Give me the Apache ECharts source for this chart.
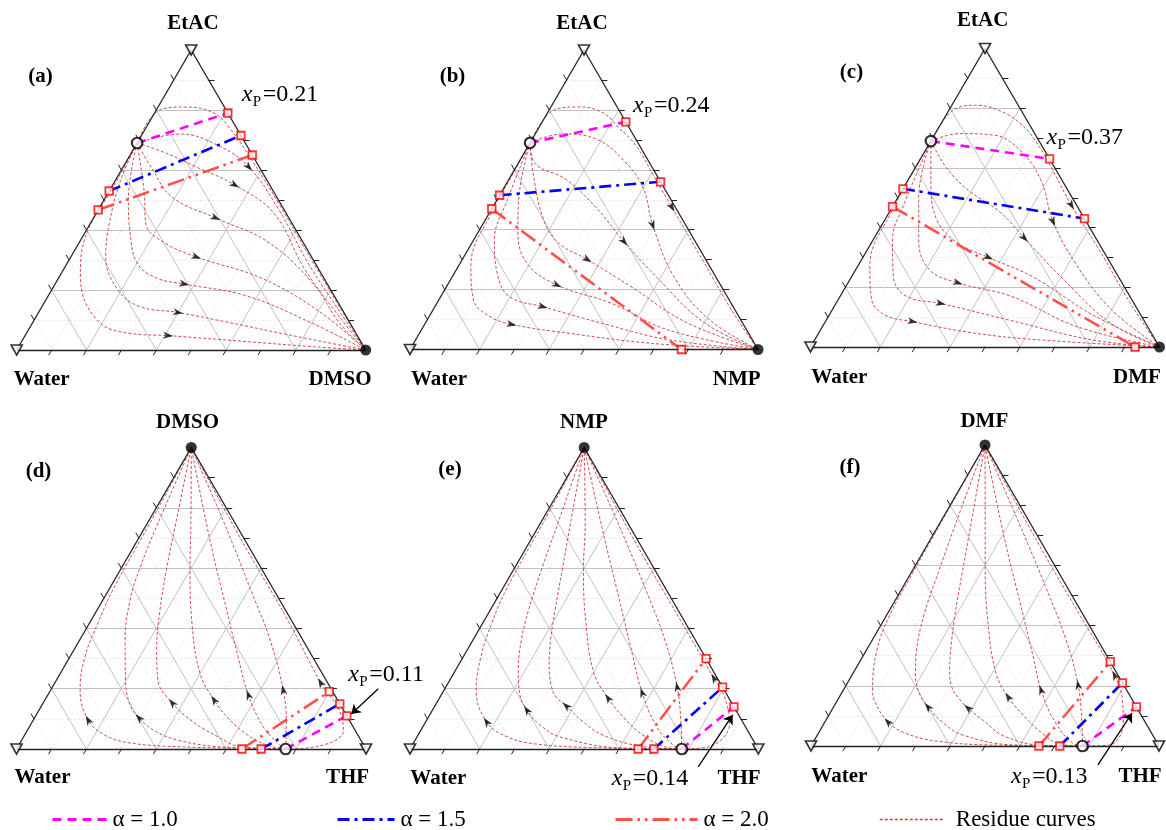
<!DOCTYPE html>
<html><head><meta charset="utf-8">
<script src="https://cdn.jsdelivr.net/npm/echarts@6/dist/echarts.min.js"></script>
<style>html,body{margin:0;padding:0;background:#fff}#c{width:1166px;height:830px}</style>
</head><body><div id="c"></div>
<script>
// ===== DATA: compositions given as [fraction of right vertex, fraction of top vertex] =====
const panelTags   = ['(a)','(b)','(c)','(d)','(e)','(f)'];
const topNames    = ['EtAC','EtAC','EtAC','DMSO','NMP','DMF'];
const leftNames   = ['Water','Water','Water','Water','Water','Water'];
const rightNames  = ['DMSO','NMP','DMF','THF','THF','THF'];
const xpValues    = ['0.21','0.24','0.37','0.11','0.14','0.13'];

const azeotropes = [[0,0.69],[0,0.69],[0,0.69],[0.77,0],[0.78,0],[0.78,0]];

const alpha10 = [[[0,0.69],[0.21,0.79]],[[0,0.69],[0.24,0.76]],[[0,0.69],[0.37,0.63]],
                 [[0.77,0],[0.89,0.11]],[[0.78,0],[0.86,0.14]],[[0.78,0],[0.87,0.13]]];
const alpha15 = [[[0,0.53],[0.285,0.715]],[[0,0.515],[0.44,0.56]],[[0,0.53],[0.57,0.43]],
                 [[0.70,0],[0.85,0.15]],[[0.70,0],[0.795,0.205]],[[0.715,0],[0.79,0.21]]];
const alpha20 = [[[0,0.467],[0.35,0.65]],[[0,0.47],[0.78,0]],[[0,0.47],[0.93,0]],
                 [[0.645,0],[0.80,0.19]],[[0.655,0],[0.70,0.30]],[[0.655,0],[0.72,0.28]]];

const residueA = [
 [[0,0.69],[0.01,0.80],[0.08,0.81],[0.17,0.79],[0.24,0.74],[0.35,0.64],[0.51,0.485],[0.70,0.295],[1,0]],
 [[0,0.69],[0.11,0.72],[0.24,0.68],[0.36,0.61],[0.52,0.465],[0.69,0.29],[0.87,0.12],[1,0]],
 [[0,0.69],[0.09,0.66],[0.21,0.61],[0.35,0.55],[0.51,0.455],[0.69,0.27],[0.87,0.11],[1,0]],
 [[0,0.69],[0.08,0.61],[0.19,0.51],[0.35,0.44],[0.54,0.36],[0.74,0.22],[0.88,0.09],[1,0]],
 [[0,0.69],[0.10,0.53],[0.16,0.42],[0.24,0.36],[0.36,0.31],[0.58,0.24],[0.80,0.13],[1,0]],
 [[0,0.69],[0.07,0.50],[0.13,0.39],[0.20,0.29],[0.28,0.24],[0.37,0.22],[0.57,0.18],[0.80,0.09],[1,0]],
 [[0,0.69],[0.015,0.565],[0.055,0.42],[0.10,0.31],[0.19,0.20],[0.28,0.145],[0.40,0.125],[0.57,0.09],[0.78,0.045],[1,0]],
 [[0,0.69],[0.005,0.55],[0.01,0.37],[0.06,0.245],[0.18,0.10],[0.30,0.055],[0.41,0.048],[0.645,0.028],[0.845,0.011],[1,0]]
];
const arrowsA = [-1,3,3,3,4,5,6,6];

const residueB = [
 [[0,0.69],[0.015,0.80],[0.08,0.81],[0.16,0.79],[0.23,0.74],[0.31,0.68],[0.41,0.58],[0.515,0.475],[0.70,0.29],[0.86,0.13],[1,0]],
 [[0,0.69],[0.08,0.72],[0.19,0.70],[0.30,0.63],[0.40,0.54],[0.49,0.415],[0.64,0.24],[0.81,0.10],[1,0]],
 [[0,0.69],[0.05,0.62],[0.16,0.57],[0.29,0.48],[0.435,0.36],[0.59,0.24],[0.80,0.09],[1,0]],
 [[0,0.69],[0.065,0.58],[0.17,0.43],[0.25,0.355],[0.36,0.30],[0.53,0.21],[0.75,0.09],[1,0]],
 [[0,0.69],[0.05,0.53],[0.11,0.40],[0.19,0.29],[0.315,0.215],[0.50,0.155],[0.71,0.065],[1,0]],
 [[0,0.69],[0.03,0.50],[0.06,0.365],[0.13,0.245],[0.20,0.175],[0.31,0.143],[0.51,0.087],[0.73,0.032],[1,0]],
 [[0,0.69],[0.003,0.565],[0.005,0.465],[0.035,0.28],[0.10,0.165],[0.175,0.11],[0.25,0.084],[0.43,0.054],[0.69,0.02],[1,0]]
];
const arrowsB = [7,5,4,4,4,5,6];

const residueC = [
 [[0,0.69],[0.01,0.79],[0.07,0.81],[0.15,0.79],[0.225,0.75],[0.30,0.69],[0.40,0.59],[0.51,0.475],[0.665,0.325],[0.855,0.135],[1,0]],
 [[0,0.69],[0.07,0.715],[0.17,0.71],[0.27,0.66],[0.38,0.56],[0.485,0.42],[0.63,0.27],[0.80,0.125],[1,0]],
 [[0,0.69],[0.09,0.60],[0.19,0.525],[0.32,0.45],[0.43,0.365],[0.60,0.235],[0.82,0.08],[1,0]],
 [[0,0.69],[0.07,0.55],[0.15,0.425],[0.245,0.35],[0.36,0.30],[0.52,0.235],[0.75,0.11],[1,0]],
 [[0,0.69],[0.06,0.50],[0.13,0.36],[0.21,0.26],[0.315,0.215],[0.49,0.17],[0.73,0.068],[1,0]],
 [[0,0.69],[0.03,0.47],[0.055,0.36],[0.12,0.235],[0.19,0.17],[0.30,0.146],[0.525,0.09],[0.80,0.023],[1,0]],
 [[0,0.69],[0.005,0.46],[0.035,0.27],[0.095,0.16],[0.16,0.107],[0.25,0.085],[0.45,0.046],[0.655,0.023],[1,0]]
];
const arrowsC = [7,5,4,4,4,5,5];

const residueD = [
 [[0.77,0],[0.473,0.007],[0.315,0.02],[0.23,0.046],[0.157,0.096],[0.084,0.196],[0.043,0.305],[0.024,0.418],[0.012,0.527],[0.007,0.75],[0,1]],
 [[0.77,0],[0.57,0.008],[0.444,0.03],[0.366,0.06],[0.299,0.103],[0.252,0.146],[0.1975,0.229],[0.13,0.3615],[0.078,0.494],[0.053,0.60],[0.03,0.75],[0,1]],
 [[0.77,0],[0.636,0.008],[0.545,0.046],[0.46,0.09],[0.369,0.153],[0.29,0.229],[0.235,0.332],[0.18,0.461],[0.13,0.60],[0.081,0.75],[0,1]],
 [[0.77,0],[0.71,0.013],[0.639,0.046],[0.563,0.096],[0.484,0.1625],[0.399,0.252],[0.293,0.418],[0.198,0.597],[0.124,0.75],[0,1]],
 [[0.77,0],[0.747,0.013],[0.669,0.074],[0.574,0.179],[0.481,0.306],[0.363,0.472],[0.207,0.693],[0,1]],
 [[0.77,0],[0.761,0.02],[0.729,0.086],[0.665,0.196],[0.545,0.3615],[0.407,0.527],[0.219,0.75],[0,1]],
 [[0.77,0],[0.855,0.008],[0.905,0.06],[0.875,0.11],[0.76,0.22],[0.56,0.43],[0.295,0.695],[0,1]]
];
const arrowsD = [4,4,4,4,3,3,4];

const residueE = [
 [[0.78,0],[0.514,0.005],[0.35,0.017],[0.26,0.04],[0.175,0.09],[0.092,0.196],[0.051,0.305],[0.026,0.418],[0.012,0.527],[0.007,0.75],[0,1]],
 [[0.78,0],[0.61,0.003],[0.411,0.04],[0.333,0.08],[0.271,0.129],[0.226,0.179],[0.18,0.262],[0.139,0.3615],[0.11,0.461],[0.079,0.60],[0.05,0.75],[0,1]],
 [[0.78,0],[0.665,0.008],[0.531,0.046],[0.443,0.096],[0.377,0.143],[0.333,0.1725],[0.299,0.212],[0.26,0.279],[0.223,0.3615],[0.186,0.461],[0.138,0.60],[0.086,0.75],[0,1]],
 [[0.78,0],[0.729,0.007],[0.646,0.046],[0.563,0.103],[0.484,0.169],[0.402,0.252],[0.296,0.418],[0.201,0.594],[0.128,0.75],[0,1]],
 [[0.78,0],[0.749,0.013],[0.671,0.074],[0.573,0.187],[0.487,0.306],[0.37,0.472],[0.213,0.693],[0,1]],
 [[0.78,0],[0.735,0.086],[0.664,0.206],[0.551,0.3615],[0.414,0.527],[0.222,0.75],[0,1]],
 [[0.78,0],[0.855,0.008],[0.875,0.085],[0.815,0.175],[0.755,0.235],[0.56,0.43],[0.30,0.69],[0,1]]
];
const arrowsE = [4,4,4,4,3,2,4];

const residueF = [
 [[0.78,0],[0.521,0.003],[0.348,0.017],[0.249,0.043],[0.181,0.08],[0.105,0.153],[0.084,0.186],[0.03,0.319],[0.009,0.435],[0.005,0.574],[0.002,0.795],[0,1]],
 [[0.78,0],[0.587,0.003],[0.416,0.037],[0.337,0.08],[0.271,0.13],[0.229,0.169],[0.182,0.236],[0.144,0.319],[0.107,0.435],[0.078,0.574],[0.036,0.795],[0,1]],
 [[0.78,0],[0.666,0.002],[0.538,0.033],[0.46,0.08],[0.388,0.126],[0.352,0.153],[0.309,0.193],[0.272,0.2525],[0.235,0.336],[0.196,0.435],[0.147,0.575],[0.09,0.74],[0,1]],
 [[0.78,0],[0.716,0.005],[0.642,0.043],[0.562,0.1],[0.485,0.163],[0.41,0.2425],[0.304,0.409],[0.208,0.585],[0.13,0.741],[0,1]],
 [[0.78,0],[0.748,0.009],[0.666,0.075],[0.568,0.186],[0.49,0.297],[0.372,0.463],[0.215,0.684],[0,1]],
 [[0.78,0],[0.741,0.075],[0.666,0.203],[0.557,0.352],[0.419,0.518],[0.228,0.74],[0,1]],
 [[0.78,0],[0.855,0.003],[0.86,0.075],[0.82,0.15],[0.755,0.235],[0.56,0.43],[0.30,0.69],[0,1]]
];
const arrowsF = [4,4,4,4,3,2,4];

// annotation arrows (tail -> head) for x_P labels in panels d-f
const annotations = [null,null,null,
 [[0.935,0.20],[0.90,0.116]],
 [[0.857,-0.059],[0.87,0.113]],
 [[0.856,-0.063],[0.868,0.109]]];

const tickValues = [0.1,0.2,0.3,0.4,0.5,0.6,0.7,0.8,0.9];

// ===== LAYOUT / STYLE =====
const residues = [residueA,residueB,residueC,residueD,residueE,residueF];
const arrowIdx = [arrowsA,arrowsB,arrowsC,arrowsD,arrowsE,arrowsF];
const layout = [
 {left:16.7, top:50,   width:349,   height:300},
 {left:410,  top:50,   width:348,   height:299.5},
 {left:810.5,top:48.5, width:349,   height:298.5},
 {left:16.5, top:447.5,width:349.5, height:301.5},
 {left:410,  top:447.5,width:348.3, height:301.5},
 {left:811,  top:445,  width:348,   height:301}
];
// vertex marker kinds [top, left, right]
const vKinds = [['tri','tri','dot'],['tri','tri','dot'],['tri','tri','dot'],
                ['dot','tri','tri'],['dot','tri','tri'],['dot','tri','tri']];
const tagPos = [[40.5,77],[452.5,77],[851.5,73],[38.5,472],[450,470],[850,468]];
const topPos = [[193,24],[582,24],[982.7,21],[187.5,423],[584,423],[984.3,421.5]];
const leftPos = [[41.7,380],[439,380],[839.3,378],[42.5,778],[438.3,779],[839.3,776.5]];
const rightPos = [[340,380],[736.7,380],[1137,378],[347.5,778],[739,779],[1140,776.5]];
const xpPos = [[241.7,95],[633,106],[1046.5,138],[348.3,675],[611.7,779],[1011,777]];

const P = c => [c[0] + c[1]/2, c[1]];   // ternary -> cartesian (grid units)
const SERIF = '"Liberation Serif","Times New Roman",serif';
const RES_COLOR = '#cc3a3a';
const ARROW_PATH = 'path://M0,0 L4,10 L0,7.2 L-4,10 Z';

const grids=[], xAxes=[], yAxes=[], series=[], graphics=[];
function same(a,b){return Math.abs(a[0]-b[0])<1e-9 && Math.abs(a[1]-b[1])<1e-9;}

for (let i=0;i<6;i++){
  const L = layout[i], W=L.width, H=L.height;
  grids.push({left:L.left, top:L.top, width:W, height:H, containLabel:false});
  xAxes.push({gridIndex:i,type:'value',min:0,max:1,show:false});
  yAxes.push({gridIndex:i,type:'value',min:0,max:1,show:false});
  const ax = {xAxisIndex:i, yAxisIndex:i};

  // grid lines
  const major=[], minor=[];
  tickValues.forEach((t,k)=>{
    const segs=[[P([0,t]),P([1-t,t])],[P([t,0]),P([t,1-t])],[P([1-t,0]),P([0,1-t])]];
    segs.forEach(s=>((k%2===1)?major:minor).push({coords:s}));
  });
  series.push(Object.assign({type:'lines',coordinateSystem:'cartesian2d',silent:true,z:1,clip:false,
    data:minor,lineStyle:{color:'#e2e2e2',width:0.8,type:[2,2],opacity:1,curveness:0}},ax));
  series.push(Object.assign({type:'lines',coordinateSystem:'cartesian2d',silent:true,z:1,clip:false,
    data:major,lineStyle:{color:'#c2c2c2',width:1,opacity:1,curveness:0}},ax));

  // ticks (6px, outward)
  const tl=6, ticks=[];
  const off=(p,deg)=>{const r=deg*Math.PI/180;return [p[0]+tl*Math.cos(r)/W, p[1]+tl*Math.sin(r)/H];};
  tickValues.forEach(t=>{
    const b=P([t,0]); ticks.push({coords:[b,off(b,240)]});
    const rr=P([1-t,t]); ticks.push({coords:[rr,off(rr,0)]});
    const ll=P([0,t]); ticks.push({coords:[ll,off(ll,120)]});
  });
  series.push(Object.assign({type:'lines',coordinateSystem:'cartesian2d',silent:true,z:4,clip:false,
    data:ticks,lineStyle:{color:'#222',width:1,opacity:1}},ax));

  // triangle border
  series.push(Object.assign({type:'lines',coordinateSystem:'cartesian2d',silent:true,z:4,clip:false,
    data:[{coords:[P([0,0]),P([1,0])]},{coords:[P([1,0]),P([0,1])]},{coords:[P([0,1]),P([0,0])]}],
    lineStyle:{color:'#222',width:1.3,opacity:1}},ax));

  // residue curves
  residues[i].forEach(curve=>{
    series.push(Object.assign({type:'line',name:'Residue curves',data:curve.map(P),smooth:0.4,
      symbol:'none',silent:true,clip:false,z:2,itemStyle:{color:RES_COLOR},
      lineStyle:{color:RES_COLOR,width:0.9,type:[3,2]}},ax));
  });
  // direction arrows on residue curves
  const arr=[];
  residues[i].forEach((curve,j)=>{
    const k=arrowIdx[i][j]; if(k<0) return;
    const a=P(curve[k-1]), b=P(curve[k+1]);
    const ang=Math.atan2((b[1]-a[1])*H,(b[0]-a[0])*W)*180/Math.PI;
    arr.push({value:P(curve[k]),symbolRotate:ang-90});
  });
  series.push(Object.assign({type:'scatter',data:arr,symbol:ARROW_PATH,symbolSize:[7,10],silent:true,clip:false,z:4,
    itemStyle:{color:'#000'}},ax));

  // alpha lines
  series.push(Object.assign({type:'line',name:'α = 1.0',data:alpha10[i].map(P),symbol:'none',clip:false,z:5,silent:true,
    itemStyle:{color:'#ff00ff'},lineStyle:{color:'#ff00ff',width:2.6,type:[9,6]}},ax));
  series.push(Object.assign({type:'line',name:'α = 1.5',data:alpha15[i].map(P),symbol:'none',clip:false,z:5,silent:true,
    itemStyle:{color:'#0000ff'},lineStyle:{color:'#0000ff',width:2.6,type:[12,5,3,5]}},ax));
  series.push(Object.assign({type:'line',name:'α = 2.0',data:alpha20[i].map(P),symbol:'none',clip:false,z:5,silent:true,
    itemStyle:{color:'#ff5050'},lineStyle:{color:'#ff5050',width:2.6,type:[17,5,2.5,5,2.5,5]}},ax));

  // red squares at line ends (all ends except the azeotrope)
  const sq=[];
  [alpha10[i],alpha15[i],alpha20[i]].forEach(seg=>seg.forEach(p=>{ if(!same(p,azeotropes[i])) sq.push(P(p)); }));
  series.push(Object.assign({type:'scatter',data:sq,symbol:'rect',symbolSize:7.5,clip:false,z:7,silent:true,
    itemStyle:{color:'#fff',borderColor:'#ff0000',borderWidth:1.8}},ax));

  // azeotrope
  series.push(Object.assign({type:'scatter',data:[P(azeotropes[i])],symbol:'circle',symbolSize:10.5,clip:false,z:8,silent:true,
    itemStyle:{color:'#fff',borderColor:'#000',borderWidth:2.2}},ax));

  // vertices
  const verts=[[0,1],[0,0],[1,0]];
  const tri=[], dot=[];
  vKinds[i].forEach((k,j)=>{ (k==='tri'?tri:dot).push(P(verts[j])); });
  series.push(Object.assign({type:'scatter',data:tri,symbol:'triangle',symbolRotate:180,symbolSize:[11,10],clip:false,z:8,silent:true,
    itemStyle:{color:'#fff',borderColor:'#000',borderWidth:1.7}},ax));
  series.push(Object.assign({type:'scatter',data:dot,symbol:'circle',symbolSize:11,clip:false,z:8,silent:true,
    itemStyle:{color:'#000'}},ax));

  // annotation arrow
  if(annotations[i]){
    series.push(Object.assign({type:'lines',coordinateSystem:'cartesian2d',silent:true,z:8,clip:false,
      symbol:['none','arrow'],symbolSize:9,
      data:[{coords:annotations[i].map(P)}],lineStyle:{color:'#000',width:1.3,opacity:1}},ax));
  }

  // texts
  const T=(x,y,s,font,align)=>({type:'text',x:x,y:y,z:100,silent:true,
    style:{text:s,font:font,fill:'#000',align:align||'center',verticalAlign:'middle',textAlign:align||'center',textVerticalAlign:'middle'}});
  graphics.push(T(tagPos[i][0],tagPos[i][1],panelTags[i],'bold 21px '+SERIF));
  graphics.push(T(topPos[i][0],topPos[i][1],topNames[i],'bold 21px '+SERIF));
  graphics.push(T(leftPos[i][0],leftPos[i][1],leftNames[i],'bold 21px '+SERIF));
  graphics.push(T(rightPos[i][0],rightPos[i][1],rightNames[i],'bold 21px '+SERIF));
  const xp=xpPos[i];
  graphics.push(T(xp[0],xp[1],'x','italic 24px '+SERIF,'left'));
  graphics.push(T(xp[0]+11,xp[1]+7,'P','15px '+SERIF,'left'));
  graphics.push(T(xp[0]+21,xp[1],'='+xpValues[i],'24px '+SERIF,'left'));
}

const legTxt={fontFamily:SERIF,fontSize:23,color:'#000',padding:[0,0,0,1]};
const hideSym={opacity:0,borderWidth:0};
const legends=[
  {data:['α = 1.0'],left:46,top:803,itemWidth:54,itemHeight:14,textStyle:legTxt,selectedMode:false,itemStyle:hideSym,lineStyle:{width:3}},
  {data:['α = 1.5'],left:331,top:803,itemWidth:57,itemHeight:14,textStyle:legTxt,selectedMode:false,itemStyle:hideSym,lineStyle:{width:3}},
  {data:['α = 2.0'],left:609,top:803,itemWidth:82,itemHeight:14,textStyle:legTxt,selectedMode:false,itemStyle:hideSym,lineStyle:{width:3}},
  {data:['Residue curves'],left:874,top:803,itemWidth:64,itemHeight:14,textStyle:Object.assign({},legTxt,{padding:[0,0,0,7]}),selectedMode:false,itemStyle:hideSym,lineStyle:{width:1.6,color:'#d23c3c'}}
];

const chart=echarts.init(document.getElementById('c'),null,{renderer:'canvas'});
chart.setOption({
  animation:false,
  backgroundColor:'#ffffff',
  textStyle:{fontFamily:SERIF},
  grid:grids, xAxis:xAxes, yAxis:yAxes,
  legend:legends,
  series:series,
  graphic:graphics
});
</script></body></html>
